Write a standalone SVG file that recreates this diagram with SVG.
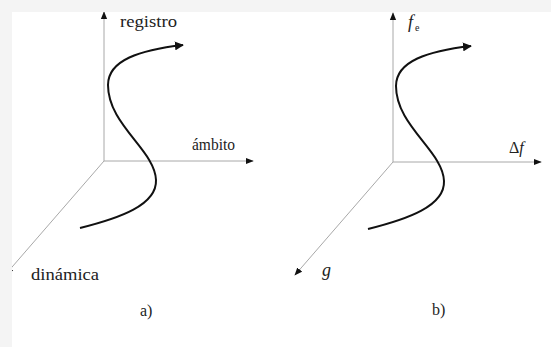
<svg xmlns="http://www.w3.org/2000/svg" width="551" height="347" viewBox="0 0 551 347">
<defs>
<marker id="ah" viewBox="0 0 10 10" refX="9" refY="5" markerWidth="9" markerHeight="9" markerUnits="userSpaceOnUse" orient="auto">
<path d="M0,0 L10,5 L0,10 z" fill="#111"/>
</marker>
<marker id="ax" viewBox="0 0 10 10" refX="9" refY="5" markerWidth="8" markerHeight="8" markerUnits="userSpaceOnUse" orient="auto">
<path d="M0,1 L10,5 L0,9 z" fill="#111"/>
</marker>
<style>
.axis{stroke:#a8a8a8;stroke-width:1;fill:none;marker-end:url(#ax)}
.curve{stroke:#111;stroke-width:2;fill:none;marker-end:url(#ah)}
text{font-family:'Liberation Serif','DejaVu Serif',serif;fill:#222}
.t{font-size:16px}
.i{font-style:italic}
.big{font-size:18px}
.sub{font-size:10px}
</style>
</defs>
<rect x="0" y="0" width="551" height="347" fill="#ffffff"/>
<g id="panel-a">
<g id="axes-a">
<line class="axis" x1="104" y1="161" x2="104" y2="12"/>
<line class="axis" x1="104" y1="161" x2="253" y2="161"/>
<line class="axis" x1="104" y1="161" x2="6" y2="274"/>
</g>
<path class="curve" d="M80,228 C120,218 157,205 156,180 C155,150 108,125 108,85 C108,60 140,50 183,45"/>
<text class="t" x="120" y="27" textLength="57" lengthAdjust="spacingAndGlyphs" font-family="Liberation Serif, serif">registro</text>
<text class="t" x="192" y="150" textLength="43" lengthAdjust="spacingAndGlyphs" font-family="Liberation Serif, serif">ámbito</text>
<text class="t" x="31" y="280" textLength="68" lengthAdjust="spacingAndGlyphs" font-family="Liberation Serif, serif">dinámica</text>
<text class="t" x="140" y="316" font-family="Liberation Serif, serif">a)</text>
</g>
<g id="panel-b">
<g id="axes-b">
<line class="axis" x1="393" y1="162" x2="393" y2="13"/>
<line class="axis" x1="393" y1="162" x2="541" y2="162"/>
<line class="axis" x1="393" y1="162" x2="295" y2="275"/>
</g>
<path class="curve" d="M368,229 C408,219 445,206 444,181 C443,151 396,126 396,86 C396,61 428,51 471,46"/>
<text class="big i" x="408" y="28" font-family="Liberation Serif, serif">f</text>
<text class="sub" x="415" y="31" font-family="Liberation Serif, serif">e</text>
<text class="t" x="509" y="153" font-family="Liberation Serif, serif">Δ<tspan class="i">f</tspan></text>
<text class="big i" x="322" y="276" font-family="Liberation Serif, serif">g</text>
<text class="t" x="432" y="315" font-family="Liberation Serif, serif">b)</text>
</g>
<g id="frame">
<rect x="0" y="0" width="551" height="12" fill="#f4f4f4"/>
<rect x="0" y="0" width="12" height="347" fill="#f4f4f4"/>
</g>
</svg>
